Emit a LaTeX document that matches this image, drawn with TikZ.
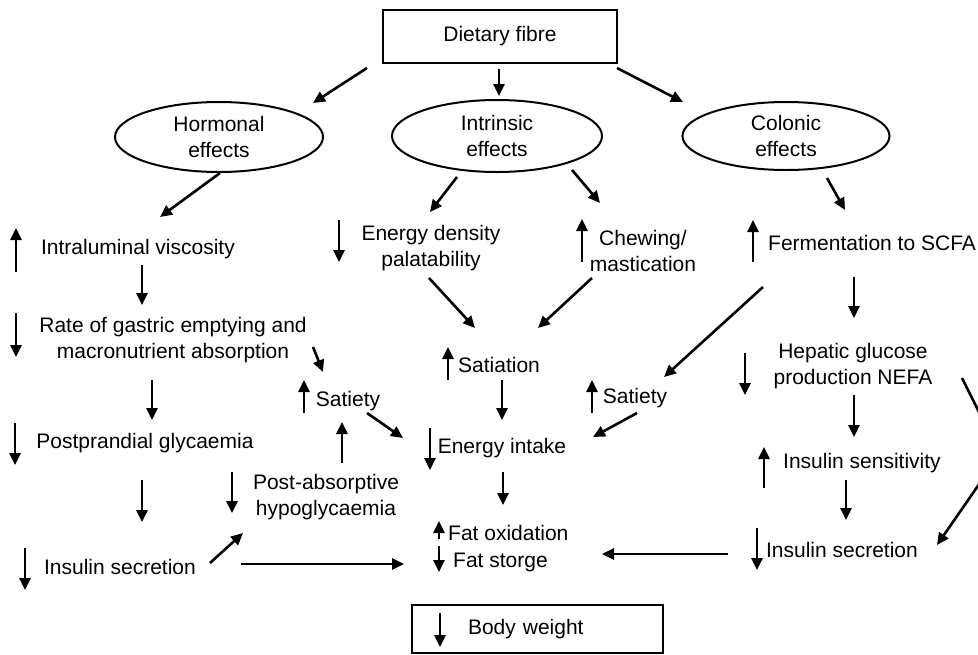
\documentclass[tikz,border=0pt]{standalone}
\usepackage{fontspec}
\setmainfont{Liberation Sans}
\usetikzlibrary{positioning, arrows.meta, shapes.geometric, calc}

\begin{document}
\begin{tikzpicture}[
  x=1pt, y=-1pt,
  lbl/.style={font=\fontsize{21}{25.5}\selectfont, inner sep=0pt, align=center},
  frame/.style={lbl, rectangle, draw, line width=1.6pt},
  effect/.style={lbl, ellipse, draw, line width=2pt},
  arr/.style={-{Triangle[length=12pt,width=11pt]}, line width=2.6pt},
]
\useasboundingbox (0,0) rectangle (978,654);

% Top box and the three kinds of effect
\node[frame, minimum width=234pt, minimum height=53pt] (fibre) at (500,36.5) {Dietary fibre};
\node[effect, minimum width=208pt, minimum height=70pt] (hormonal) at (219,137) {Hormonal\\effects};
\node[effect, minimum width=210pt, minimum height=72pt] (intrinsic) at (497,136) {Intrinsic\\effects};
\node[effect, minimum width=207pt, minimum height=68pt] (colonic) at (786,136) {Colonic\\effects};

% Hormonal branch
\node[lbl] (intra) at (138,249) {Intraluminal viscosity};
\node[lbl] (gastric) at (173,340) {Rate of gastric emptying and\\macronutrient absorption};
\node[lbl] (postpr) at (145,443) {Postprandial glycaemia};
\node[lbl] (insL) at (120,567) {Insulin secretion};
\node[lbl] (satL) at (348,401) {Satiety};
\node[lbl] (postabs) at (326,497) {Post-absorptive\\hypoglycaemia};

% Intrinsic branch
\node[lbl] (energy) at (431,248) {Energy density\\palatability};
\node[lbl] (chew) at (643,251) {Chewing/\\mastication};
\node[lbl] (satiation) at (499,365) {Satiation};
\node[lbl] (intake) at (502,448) {Energy intake};
\node[lbl] (satR) at (635,398) {Satiety};
\node[lbl, anchor=west] (fatox) at (448,533) {Fat oxidation};
\node[lbl, anchor=west] (fatst) at (453,562) {Fat storge};

% Colonic branch
\node[lbl, anchor=west] (ferm) at (768,243) {Fermentation to SCFA};
\node[lbl] (hepatic) at (853,366) {Hepatic glucose\\production NEFA};
\node[lbl] (inssens) at (862,463) {Insulin sensitivity};
\node[lbl] (insR) at (842,550) {Insulin secretion};

% Outcome
\node[frame, minimum width=251pt, minimum height=48pt, text width=235pt, align=left, inner xsep=8pt]
  (body) at (537.5,629) {\hspace*{48pt}Body weight};

% Connectors
\draw[arr] ($(fibre)+(-133,31.5)$) -- ($(hormonal)+(94,-34)$);
\draw[arr] ($(fibre)+(-1,32.5)$) -- ($(intrinsic)+(2,-40)$);
\draw[arr] ($(fibre)+(117,31.5)$) -- ($(colonic)+(-103,-34)$);
\draw[arr] ($(hormonal)+(1,36)$) -- ($(intra)+(22,-32)$);
\draw[arr] ($(intrinsic)+(-40,41)$) -- ($(energy)+(-1,-36)$);
\draw[arr] ($(intrinsic)+(75,34)$) -- ($(chew)+(-43,-48)$);
\draw[arr] ($(colonic)+(41,42)$) -- ($(ferm.west)+(77,-33)$);
\draw[arr] ($(intra)+(4,16)$) -- ($(gastric)+(-31,-35)$);
\draw[arr] ($(gastric)+(-21,40)$) -- ($(postpr)+(7,-23)$);
\draw[arr] ($(postpr)+(-3,37)$) -- ($(insL)+(22,-45)$);
\draw[arr] ($(gastric)+(140,7)$) -- ($(satL)+(-25,-29)$);
\draw[arr] ($(satL)+(19,12)$) -- ($(intake)+(-99,-10)$);
\draw[arr] ($(postabs)+(16,-34)$) -- ($(satL)+(-6,21)$);
\draw[arr] ($(insL)+(90,-4)$) -- ($(postabs)+(-83,36)$);
\draw[arr] ($(insL)+(121,-3)$) -- ($(fatst.west)+(-49,2)$);
\draw[arr] ($(energy)+(-2,30)$) -- ($(satiation)+(-24,-37)$);
\draw[arr] ($(chew)+(-51,27)$) -- ($(satiation)+(39,-37)$);
\draw[arr] ($(satiation)+(3,15)$) -- ($(intake)+(0,-28)$);
\draw[arr] ($(satR)+(2,15)$) -- ($(intake)+(91,-11)$);
\draw[arr] ($(intake)+(1,24)$) -- ($(fatox.west)+(55,-28)$);
\draw[arr] ($(ferm.west)+(-5,44)$) -- ($(satR)+(29,-21)$);
\draw[arr] ($(ferm.west)+(86,34)$) -- ($(hepatic)+(1,-48)$);
\draw[arr] ($(hepatic)+(1,29)$) -- ($(inssens)+(-8,-26)$);
\draw[arr] ($(inssens)+(-16,17)$) -- ($(insR)+(4,-30)$);
\draw[arr] ($(insR)+(-114,4)$) -- ($(fatst.west)+(149,-8)$);
\coordinate (bend) at (1000,454);
\draw[arr] ($(hepatic)+(109,12)$) -- (bend) -- ($(insR)+(95,-5)$);

% Up and down markers
\draw[arr] (16,272) -- (16,228);
\draw[arr] (16,313) -- (16,357);
\draw[arr] (15,423) -- (15,465);
\draw[arr] (25,548) -- (25,590);
\draw[arr] (232,472) -- (232,513);
\draw[arr] (304,413) -- (304,380);
\draw[arr] (339,220) -- (339,262);
\draw[arr] (582,262) -- (582,219);
\draw[arr] (448,380) -- (448,347);
\draw[arr] (430,428) -- (430,470);
\draw[arr] (592,413) -- (592,380);
\draw[arr] (439,539) -- (439,521);
\draw[arr] (439,546) -- (439,572);
\draw[arr] (440,613) -- (440,647);
\draw[arr] (753,262) -- (753,220);
\draw[arr] (745,353) -- (745,395);
\draw[arr] (764,488) -- (764,447);
\draw[arr] (757,528) -- (757,570);
\end{tikzpicture}
\end{document}
